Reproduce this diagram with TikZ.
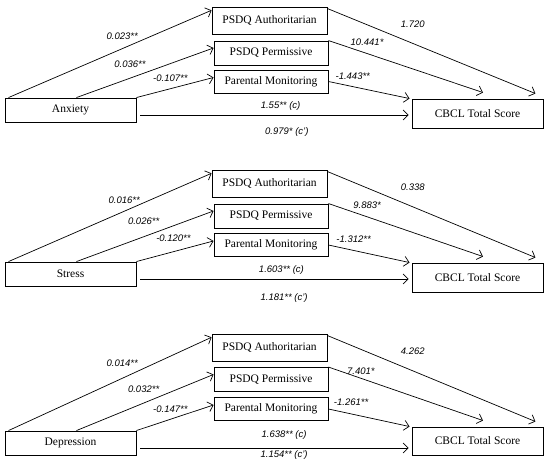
\documentclass[tikz,border=0pt]{standalone}
\usepackage{fontspec}
\setmainfont{Liberation Serif}
\setsansfont{Liberation Sans}
\usetikzlibrary{arrows.meta}
\tikzset{
  var/.style  = {rectangle, draw, line width=0.9pt, inner sep=0pt,
                 minimum width=131pt, minimum height=24pt,
                 font=\fontsize{11.5}{13}\selectfont},
  med/.style  = {var, minimum width=114pt},
  flow/.style = {-{Straight Barb[length=5pt,width=10pt]}, line width=0.7pt},
  coef/.style = {inner sep=0pt, font=\sffamily\itshape\fontsize{9.5}{11}\selectfont},
}

\begin{document}
\begin{tikzpicture}[x=1pt, y=-1pt]
  \useasboundingbox (0,0) rectangle (550,470);

  % anxiety
  \node[var] (anx) at (70.5,110) {Anxiety};
  \node[med, minimum width=115pt, minimum height=27pt] (auth1) at (269.5,20.5) {PSDQ Authoritarian};
  \node[med] (perm1) at (271,53) {PSDQ Permissive};
  \node[med, minimum height=23pt] (mon1) at (271,81.5) {Parental Monitoring};
  \node[var, minimum height=29pt] (cbcl1) at (477.5,113.5) {CBCL Total Score};
  \coordinate (d1) at ([xshift=4pt,yshift=-5pt]anx.east);

  \draw[flow] ([xshift=4pt]anx.north west) -- node[coef, pos=.56, yshift=12pt] {0.023**} (auth1.170);
  \draw[flow] ([xshift=6pt]anx.north) -- node[coef, pos=.39, yshift=14pt] {0.036**} (perm1.175);
  \draw[flow] (anx.north east) -- node[coef, pos=.44, yshift=10pt] {-0.107**} (mon1.176);
  \draw[flow] ([yshift=-2pt]auth1.north east) -- node[coef, pos=.41, yshift=19.5pt] {1.720} ([xshift=-8pt,yshift=5pt]cbcl1.north east);
  \draw[flow] (perm1.north east) -- node[coef, pos=.25, yshift=11pt] {10.441*} ([xshift=5.5pt,yshift=6pt]cbcl1.north);
  \draw[flow] (mon1.east) -- node[coef, pos=.3, yshift=10.5pt] {-1.443**} ([xshift=-2pt]cbcl1.north west);
  \draw[flow, shorten >=3pt] (d1) -- node[coef, pos=.517, yshift=9pt] {1.55** (c)}
    node[coef, pos=.54, yshift=-17pt] {0.979* (c')} (d1 -| cbcl1.west);

  % stress
  \node[var] (str) at (70.5,274) {Stress};
  \node[med, minimum width=115pt, minimum height=27pt] (auth2) at (269.5,183.5) {PSDQ Authoritarian};
  \node[med] (perm2) at (271,216) {PSDQ Permissive};
  \node[med, minimum height=23pt] (mon2) at (271,245) {Parental Monitoring};
  \node[var, minimum height=29pt] (cbcl2) at (477.5,277.5) {CBCL Total Score};
  \coordinate (d2) at ([xshift=4pt,yshift=-5pt]str.east);

  \draw[flow] ([xshift=4pt]str.north west) -- node[coef, pos=.57, yshift=11pt] {0.016**} (auth2.170);
  \draw[flow] ([xshift=6pt]str.north) -- node[coef, pos=.49, yshift=16pt] {0.026**} (perm2.175);
  \draw[flow] (str.north east) -- node[coef, pos=.48, yshift=13pt] {-0.120**} (mon2.176);
  \draw[flow] ([yshift=-2pt]auth2.north east) -- node[coef, pos=.41, yshift=20pt] {0.338} ([xshift=-8pt,yshift=5pt]cbcl2.north east);
  \draw[flow] (perm2.north east) -- node[coef, pos=.25, yshift=11.5pt] {9.883*} ([xshift=5.5pt,yshift=6pt]cbcl2.north);
  \draw[flow] (mon2.east) -- node[coef, pos=.31, yshift=11.5pt] {-1.312**} ([xshift=-2pt]cbcl2.north west);
  \draw[flow, shorten >=3pt] (d2) -- node[coef, pos=.52, yshift=9pt] {1.603** (c)}
    node[coef, pos=.53, yshift=-19pt] {1.181** (c')} (d2 -| cbcl2.west);

  % depression
  \node[var] (dep) at (70.5,443) {Depression};
  \node[med, minimum width=115pt, minimum height=27pt] (auth3) at (269.5,347.5) {PSDQ Authoritarian};
  \node[med] (perm3) at (271,379.5) {PSDQ Permissive};
  \node[med, minimum height=23pt] (mon3) at (271,409) {Parental Monitoring};
  \node[var, minimum height=28pt] (cbcl3) at (477.5,441) {CBCL Total Score};
  \coordinate (d3) at ([xshift=4pt,yshift=-5pt]dep.east);

  \draw[flow] ([xshift=4pt]dep.north west) -- node[coef, pos=.56, yshift=15pt] {0.014**} (auth3.170);
  \draw[flow] ([xshift=6pt]dep.north) -- node[coef, pos=.49, yshift=13.5pt] {0.032**} (perm3.175);
  \draw[flow] (dep.north east) -- node[coef, pos=.44, yshift=10.5pt] {-0.147**} (mon3.176);
  \draw[flow] ([yshift=-2pt]auth3.north east) -- node[coef, pos=.41, yshift=19.5pt] {4.262} ([xshift=-8pt,yshift=5pt]cbcl3.north east);
  \draw[flow] (perm3.north east) -- node[coef, pos=.21, yshift=7.5pt] {7.401*} ([xshift=5.5pt,yshift=6pt]cbcl3.north);
  \draw[flow] (mon3.east) -- node[coef, pos=.28, yshift=12pt] {-1.261**} ([xshift=-2pt]cbcl3.north west);
  \draw[flow, shorten >=3pt] (d3) -- node[coef, pos=.53, yshift=13pt] {1.638** (c)}
    node[coef, pos=.53, yshift=-7pt] {1.154** (c')} (d3 -| cbcl3.west);
\end{tikzpicture}
\end{document}
